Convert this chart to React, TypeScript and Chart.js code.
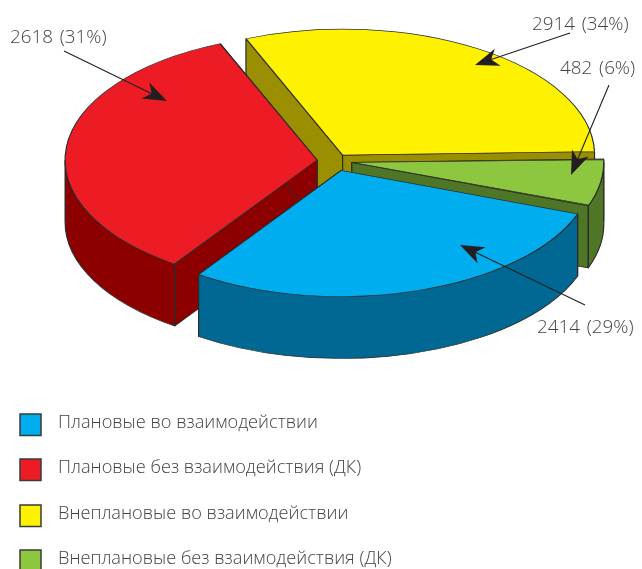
import React, { useEffect, useRef } from "react";
import { Chart, registerables } from "chart.js";

Chart.register(...registerables);

// Categories in clockwise drawing order
const categories = [
  "Плановые во взаимодействии",
  "Плановые без взаимодействия (ДК)",
  "Внеплановые во взаимодействии",
  "Внеплановые без взаимодействия (ДК)",
];
// Slice sizes estimated from the drawn angles in the picture (red is drawn larger than yellow)
const sliceValues = [2440, 2880, 2598, 510];
// Printed captions as they appear in the picture
const captions = ["2414 (29%)", "2618 (31%)", "2914 (34%)", "482 (6%)"];

const topColors = ["#00AEEF", "#ED1C24", "#FFF200", "#8DC63F"];
const wallColors = ["#006892", "#8C0000", "#9A8F00", "#4F7526"];
const explode = [20, 18, 14, 17];
const paintOrder = [2, 3, 1, 0];

// caption anchor [x, baseline], arrow from [x, y] to [x, y]
const captionPos = [
  [537, 333],
  [10, 43],
  [532, 30],
  [560, 74],
];
const arrowPos = [
  [585, 305, 460, 245],
  [64, 51, 167, 101],
  [570, 33, 475, 65],
  [609, 85, 571, 175],
];
const legendY = [425, 470, 516, 561];

const TILT = 0.5;
const DEPTH = 62;
const RADIUS = 252;
const OUTLINE = "#2b2b2b";
const FONT = '"Open Sans", "Noto Sans", sans-serif';

// the library moves a slice by a quarter of its offset option
const shift = (el: any) => (el.options.offset || 0) / 4;
const radiusFix = (el: any) =>
  shift(el) * (1 - Math.sin(Math.min(Math.PI, el.circumference || 0)));

const pie3d = {
  id: "pie3d",
  afterDatasetsUpdate(chart: any) {
    chart.getDatasetMeta(0).data.forEach((el: any) => {
      el.outerRadius = RADIUS - radiusFix(el);
    });
  },
  beforeDatasetsDraw(chart: any) {
    const ctx = chart.ctx;
    const arcs = chart.getDatasetMeta(0).data;
    const { x: cx, y: cy } = arcs[0];
    ctx.save();
    ctx.translate(cx, cy);
    ctx.scale(1, TILT);
    ctx.translate(-cx, -cy);
    const d = DEPTH / TILT;
    ctx.lineWidth = 1.2;
    ctx.strokeStyle = OUTLINE;
    ctx.lineJoin = "round";
    paintOrder.forEach((i) => {
      const el = arcs[i];
      const { startAngle: s, endAngle: e } = el;
      const mid = (s + e) / 2;
      const ox = cx + Math.cos(mid) * shift(el);
      const oy = cy + Math.sin(mid) * shift(el);
      ctx.fillStyle = wallColors[i];
      [s, e].forEach((a: number) => {
        const px = ox + Math.cos(a) * RADIUS;
        const py = oy + Math.sin(a) * RADIUS;
        ctx.beginPath();
        ctx.moveTo(ox, oy);
        ctx.lineTo(px, py);
        ctx.lineTo(px, py + d);
        ctx.lineTo(ox, oy + d);
        ctx.closePath();
        ctx.fill();
        ctx.stroke();
      });
      [-2 * Math.PI, 0, 2 * Math.PI].forEach((k) => {
        const a0 = Math.max(s, k);
        const a1 = Math.min(e, k + Math.PI);
        if (a1 <= a0) return;
        ctx.beginPath();
        ctx.arc(ox, oy, RADIUS, a0, a1);
        ctx.arc(ox, oy + d, RADIUS, a1, a0, true);
        ctx.closePath();
        ctx.fill();
        ctx.stroke();
      });
    });
    // the tilt stays active while the library paints the slice tops
  },
  afterDatasetsDraw(chart: any) {
    chart.ctx.restore();
  },
  afterDraw(chart: any) {
    const ctx = chart.ctx;
    ctx.save();
    // legend
    ctx.font = `300 18.2px ${FONT}`;
    ctx.textBaseline = "alphabetic";
    categories.forEach((label, i) => {
      const y = legendY[i];
      ctx.fillStyle = topColors[i];
      ctx.strokeStyle = "#3a3a3a";
      ctx.lineWidth = 1.5;
      ctx.fillRect(20, y - 11, 21, 21.5);
      ctx.strokeRect(20, y - 11, 21, 21.5);
      ctx.fillStyle = "#444";
      ctx.fillText(label, 58, y + 3);
    });
    // captions and arrows
    ctx.font = `300 18.8px ${FONT}`;
    (ctx as any).wordSpacing = "2px";
    captions.forEach((t, i) => {
      ctx.fillStyle = "#444";
      ctx.fillText(t, captionPos[i][0], captionPos[i][1]);
      const [x0, y0, x1, y1] = arrowPos[i];
      const ang = Math.atan2(y1 - y0, x1 - x0);
      ctx.strokeStyle = "#231F20";
      ctx.fillStyle = "#231F20";
      ctx.lineWidth = 1.1;
      ctx.beginPath();
      ctx.moveTo(x0, y0);
      ctx.lineTo(x1 - Math.cos(ang) * 10, y1 - Math.sin(ang) * 10);
      ctx.stroke();
      const p = (along: number, side: number) => [
        x1 + Math.cos(ang) * along - Math.sin(ang) * side,
        y1 + Math.sin(ang) * along + Math.cos(ang) * side,
      ];
      ctx.beginPath();
      ctx.moveTo(x1, y1);
      ctx.lineTo(...(p(-24, 9) as [number, number]));
      ctx.lineTo(...(p(-17, 0) as [number, number]));
      ctx.lineTo(...(p(-24, -9) as [number, number]));
      ctx.closePath();
      ctx.fill();
    });
    ctx.restore();
  },
};

export default function App() {
  const ref = useRef<HTMLCanvasElement>(null);
  useEffect(() => {
    const chart = new Chart(ref.current!, {
      type: "pie",
      data: {
        labels: categories,
        datasets: [
          {
            data: sliceValues,
            backgroundColor: topColors,
            borderColor: OUTLINE,
            borderWidth: 1.2,
            offset: explode.map((v) => v * 4),
          },
        ],
      },
      options: {
        animation: false,
        responsive: false,
        rotation: 110.2,
        radius: RADIUS,
        layout: { padding: { left: 28, bottom: 247 } },
        plugins: { legend: { display: false }, tooltip: { enabled: false } },
      },
      plugins: [pie3d],
    } as any);
    return () => chart.destroy();
  }, []);
  return (
    <canvas
      ref={ref}
      width={642}
      height={569}
      style={{ position: "absolute", left: 0, top: 0, width: 642, height: 569 }}
    />
  );
}
